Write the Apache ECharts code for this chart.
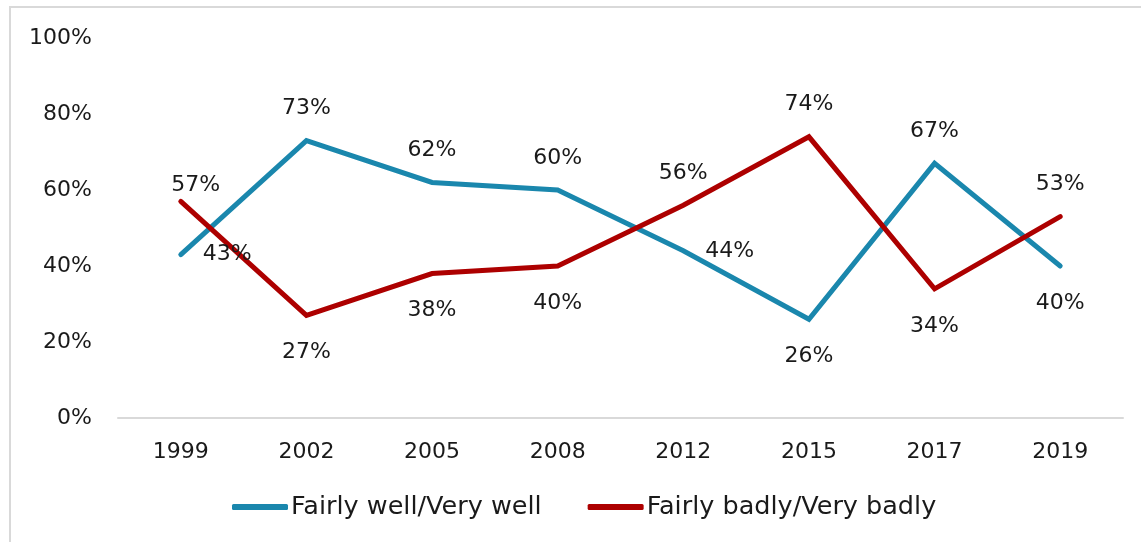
<!DOCTYPE html>
<html>
<head>
<meta charset="utf-8">
<script src="https://cdn.jsdelivr.net/npm/echarts@6/dist/echarts.min.js"></script>
<style>
  html, body { margin: 0; padding: 0; background: #fff; }
  #chart { width: 1141px; height: 542px; }
</style>
</head>
<body>
<div id="chart"></div>
<script>
// survey years
const years = ['1999', '2002', '2005', '2008', '2012', '2015', '2017', '2019']
// percentages per answer group
const wellValues = [43, 73, 62, 60, 44, 26, 67, 40]
const badlyValues = [57, 27, 38, 40, 56, 74, 34, 53]
// where each data label sits relative to its point
const wellLabelPos = ['right', 'top', 'top', 'top', 'right', 'bottom', 'top', 'bottom']
const badlyLabelPos = ['top', 'bottom', 'bottom', 'bottom', 'top', 'top', 'bottom', 'top']

const FONT = 'DejaVu Sans'
const TEXT = '#1a1a1a'
const DIST = { top: 21, bottom: 26, right: 22 }

function buildSeriesData (values, positions) {
  return values.map((v, i) => {
    const pos = positions[i]
    return {
      value: v,
      label: { position: pos, distance: DIST[pos] },
    }
  })
}

const badlyData = buildSeriesData(badlyValues, badlyLabelPos)
// the 1999 label is nudged off the line end, like in the source
badlyData[0].label.offset = [15, 16]

const labelStyle = {
  show: true,
  fontFamily: FONT,
  fontSize: 22,
  color: TEXT,
  formatter: p => p.value + '%',
}

const chart = echarts.init(document.getElementById('chart'))

chart.setOption({
  animation: false,
  textStyle: { fontFamily: FONT },
  graphic: [{
    type: 'rect',
    shape: { x: 10, y: 7, width: 1400, height: 700 },
    style: { fill: 'none', stroke: '#d9d9d9', lineWidth: 2 },
    silent: true,
  }],
  grid: { left: 118, right: 18, top: 38, bottom: 124 },
  legend: {
    bottom: 17,
    left: 227,
    itemWidth: 56,
    itemHeight: 6,
    itemGap: 46,
    icon: 'roundRect',
    textStyle: { fontFamily: FONT, fontSize: 25.5, color: TEXT, padding: [0, 0, 0, -2] },
    data: ['Fairly well/Very well', 'Fairly badly/Very badly'],
  },
  xAxis: {
    type: 'category',
    data: years,
    boundaryGap: true,
    axisLine: { lineStyle: { color: '#d9d9d9', width: 2 } },
    axisTick: { show: false },
    axisLabel: { fontFamily: FONT, fontSize: 22, color: TEXT, margin: 23 },
  },
  yAxis: {
    type: 'value',
    min: 0,
    max: 100,
    interval: 20,
    splitLine: { show: false },
    axisLine: { show: false },
    axisTick: { show: false },
    axisLabel: {
      fontFamily: FONT, fontSize: 22, color: TEXT, margin: 26,
      formatter: v => v + '%',
    },
  },
  series: [
    {
      name: 'Fairly well/Very well',
      type: 'line',
      data: buildSeriesData(wellValues, wellLabelPos),
      symbol: 'circle',
      symbolSize: 0.1,
      color: '#1a87ad',
      lineStyle: { width: 5, cap: 'round', join: 'miter' },
      label: labelStyle,
    },
    {
      name: 'Fairly badly/Very badly',
      type: 'line',
      data: badlyData,
      symbol: 'circle',
      symbolSize: 0.1,
      color: '#ad0000',
      lineStyle: { width: 5, cap: 'round', join: 'miter' },
      label: labelStyle,
    },
  ],
})
</script>
</body>
</html>
